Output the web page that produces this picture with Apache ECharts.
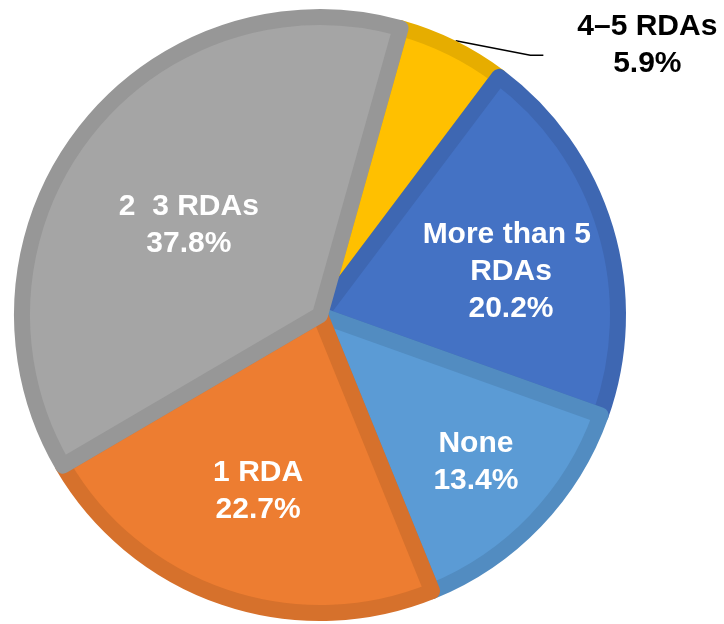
<!DOCTYPE html>
<html>
<head>
<meta charset="utf-8">
<script src="https://cdn.jsdelivr.net/npm/echarts@6/dist/echarts.min.js"></script>
<style>
html,body{margin:0;padding:0;background:#fff;}
#chart{width:724px;height:624px;}
</style>
</head>
<body>
<div id="chart"></div>
<script>
// Data (clockwise from top)
var categories = ['4\u20135 RDAs', 'More than 5 RDAs', 'None', '1 RDA', '2  3 RDAs'];
var percentages = [5.9, 20.2, 13.4, 22.7, 37.8];

// Styles
var fillColors = ['#FFC000', '#4472C4', '#5B9BD5', '#ED7D31', '#A5A5A5'];
var borderColors = ['#E6AD00', '#3E67B2', '#528CC1', '#D6712C', '#979797'];
var labelColors = ['#000000', '#ffffff', '#ffffff', '#ffffff', '#ffffff'];
// label placement: radial fraction of radius, angle tweak (deg)
var labelRadial = [1.386, 0.64, 0.70, 0.61, 0.52];
var labelAngleTweak = [24.2, 3.9, -0.5, 0.6, -3.2];

var CX = 320, CY = 315, R = 306, BW = 16;
var START = 74.3;

var total = percentages.reduce(function (a, b) { return a + b; }, 0);
var midAngles = [];
var acc = 0;
for (var i = 0; i < percentages.length; i++) {
  var a0 = 90 - START + acc / total * 360;
  acc += percentages[i];
  var a1 = 90 - START + acc / total * 360;
  midAngles.push((a0 + a1) / 2);
}

function polar(r, deg) {
  var a = deg * Math.PI / 180;
  return [CX + r * Math.sin(a), CY - r * Math.cos(a)];
}

var data = categories.map(function (name, i) {
  var item = {
    name: name,
    value: percentages[i],
    itemStyle: { color: fillColors[i], borderColor: borderColors[i] },
    label: { color: labelColors[i] }
  };
  if (i === 0) {
    item.label.position = 'outside';
    item.labelLine = { show: true, length: 20, length2: 40, lineStyle: { color: '#000', width: 1.5 } };
  }
  return item;
});

var chart = echarts.init(document.getElementById('chart'), null, { renderer: 'canvas' });
chart.setOption({
  animation: false,
  backgroundColor: '#ffffff',
  series: [{
    type: 'pie',
    center: [CX, CY],
    radius: [0, R - BW / 2],
    startAngle: START,
    clockwise: true,
    avoidLabelOverlap: false,
    itemStyle: { borderWidth: BW },
    label: {
      show: true,
      position: 'inside',
      formatter: '{b}\n{c}%',
      fontFamily: 'Liberation Sans, Arial, sans-serif',
      fontWeight: 'bold',
      fontSize: 30,
      lineHeight: 37,
      align: 'center',
      width: 200,
      overflow: 'break'
    },
    labelLine: { show: false },
    labelLayout: function (params) {
      var i = params.dataIndex;
      var p = polar(labelRadial[i] * R, midAngles[i] + labelAngleTweak[i]);
      var out = { x: p[0], y: p[1], align: 'center', verticalAlign: 'middle' };
      if (i === 0) {
        var edge = polar(R, midAngles[i]);
        var endX = p[0] - 104;
        var endY = p[1] + 10;
        out.labelLinePoints = [edge, [endX - 13, endY], [endX, endY]];
      }
      return out;
    },
    data: data
  }]
});
</script>
</body>
</html>
